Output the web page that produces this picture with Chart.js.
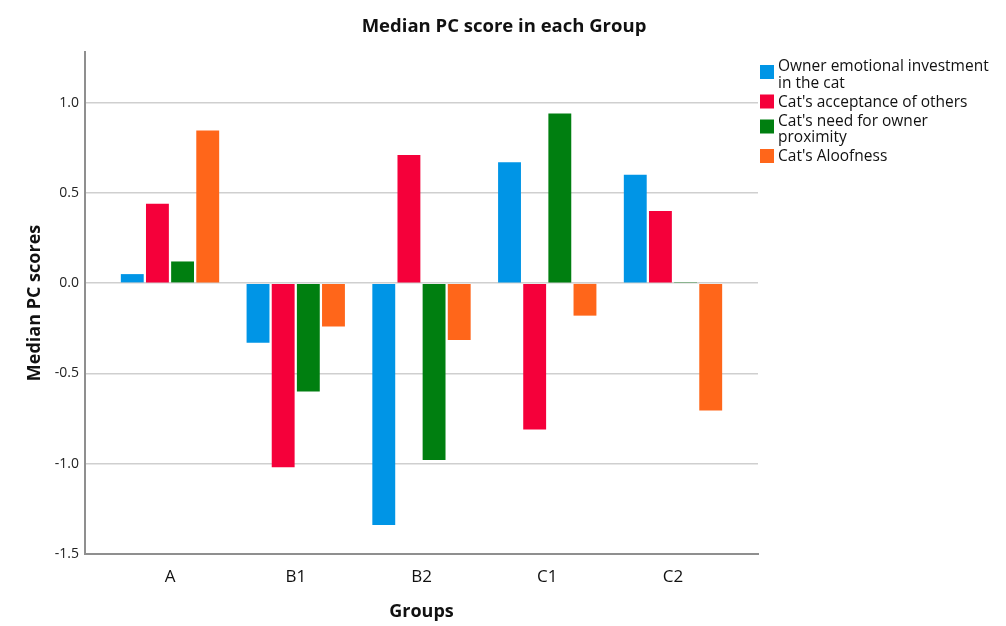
<!DOCTYPE html>
<html lang="en">
<head>
	<meta charset="UTF-8">
	<title>Median PC score in each Group</title>
	<style>
		body { margin: 0; background: #fff; }
		#wrap { position: relative; width: 1006px; height: 626px; }
	</style>
</head>
<body>
	<div id="wrap"><canvas id="myChart"></canvas></div>

	<script src="https://cdn.jsdelivr.net/npm/chart.js@4.4.1/dist/chart.umd.min.js"></script>
	<script>
		// values
		var groups = ['A', 'B1', 'B2', 'C1', 'C2'];
		var ownerInvestment = [0.05, -0.33, -1.34, 0.67, 0.60];
		var acceptanceOthers = [0.44, -1.02, 0.71, -0.81, 0.40];
		var needProximity = [0.12, -0.60, -0.98, 0.94, 0.006];
		var aloofness = [0.845, -0.24, -0.315, -0.18, -0.705];
		var yTicks = [-1.5, -1.0, -0.5, 0.0, 0.5, 1.0];

		var seriesNames = [
			['Owner emotional investment', 'in the cat'],
			["Cat's acceptance of others"],
			["Cat's need for owner", 'proximity'],
			["Cat's Aloofness"]
		];
		var colours = ['#0095e6', '#f5003a', '#007f10', '#ff661a'];
		var font = '"Open Sans", sans-serif';

		function points(values) {
			return values.map(function(v, i) { return {x: i, y: v}; });
		}

		var series = [ownerInvestment, acceptanceOthers, needProximity, aloofness];
		var datasets = series.map(function(vals, i) {
			return {
				label: seriesNames[i].join(' '),
				data: points(vals),
				backgroundColor: colours[i],
				borderWidth: 0
			};
		});

		// title + side legend (legend labels wrap over two lines)
		var decorations = {
			id: 'decorations',
			afterDraw: function(chart) {
				var ctx = chart.ctx;
				ctx.save();
				ctx.fillStyle = '#111';
				ctx.font = 'bold 18.5px ' + font;
				ctx.textAlign = 'center';
				ctx.textBaseline = 'middle';
				ctx.fillText('Median PC score in each Group', 504, 27);

				ctx.font = '15.5px ' + font;
				ctx.textAlign = 'left';
				var x = 760, y = 67;
				chart.data.datasets.forEach(function(ds, i) {
					var lines = seriesNames[i];
					var mid = lines.length > 1 ? y + 5 : y - 1;
					ctx.fillStyle = ds.backgroundColor;
					ctx.fillRect(x, mid - 7, 14, 14);
					ctx.fillStyle = '#111';
					lines.forEach(function(t, k) {
						ctx.fillText(t, x + 18, y + k * 16.5);
					});
					y += lines.length * 16.5 + 2.5;
				});
				ctx.restore();
			}
		};

		var ctx = document.getElementById('myChart').getContext('2d');
		var myChart = new Chart(ctx, {
			type: 'bar',
			data: { datasets: datasets },
			options: {
				responsive: true,
				maintainAspectRatio: false,
				animation: false,
				layout: { padding: { left: 0, top: 52, right: 248, bottom: 0 } },
				plugins: {
					legend: { display: false },
					title: { display: false },
					tooltip: { enabled: false }
				},
				datasets: { bar: { categoryPercentage: 0.8, barPercentage: 0.91 } },
				scales: {
					x: {
						type: 'linear',
						offset: false,
						min: -0.676,
						max: 4.676,
						grid: { display: false, drawTicks: false },
						border: { display: true, color: '#8f8f8f', width: 2 },
						afterBuildTicks: function(scale) {
							scale.ticks = groups.map(function(g, i) { return {value: i}; });
						},
						afterFit: function(scale) { scale.height = 72; },
						ticks: {
							padding: 13,
							color: '#111',
							font: { family: font, size: 17 },
							callback: function(v) { return groups[v]; }
						},
						title: {
							display: true,
							text: 'Groups',
							color: '#111',
							font: { family: font, size: 18, weight: 'bold' },
							padding: { top: 0, bottom: 3 }
						}
					},
					y: {
						min: -1.5,
						max: 1.28,
						grid: { color: '#cfcfcf', lineWidth: 1.5, drawTicks: false },
						border: { display: true, color: '#8f8f8f', width: 2 },
						afterBuildTicks: function(scale) {
							scale.ticks = yTicks.map(function(v) { return {value: v}; });
						},
						afterFit: function(scale) { scale.width = 85; },
						ticks: {
							padding: 6,
							color: '#222',
							font: { family: font, size: 14 },
							callback: function(v) { return v.toFixed(1); }
						},
						title: {
							display: true,
							text: 'Median PC scores',
							color: '#111',
							font: { family: font, size: 18, weight: 'bold' },
							padding: { top: 24, bottom: 0 }
						}
					}
				}
			},
			plugins: [decorations]
		});
	</script>
</body>
</html>
